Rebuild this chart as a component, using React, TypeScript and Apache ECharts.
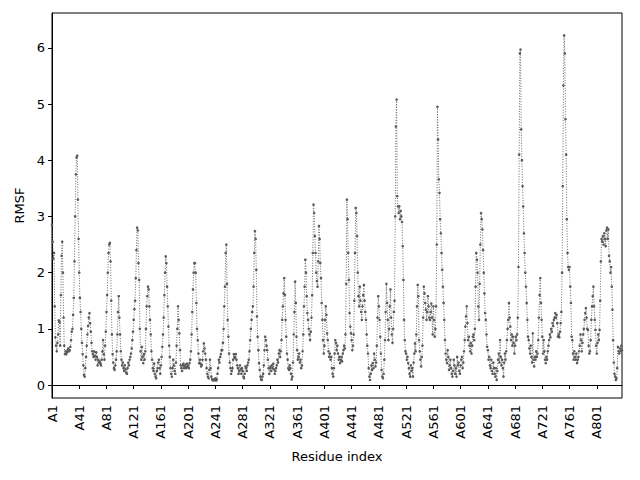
import React, { useEffect, useRef } from "react";
import * as echarts from "echarts";

// RMSF per residue (index 0 = A1)
const rmsf: number[] = [
  2.85, 2.55, 2.25, 2.35, 1.4, 0.85, 0.7, 0.6, 0.75, 0.9,
  1.15, 1.12, 0.7, 1.6, 2.3, 2.55, 2.0, 1.2, 0.7, 0.55,
  0.6, 0.55, 0.58, 0.62, 0.65, 0.6, 0.62, 0.68, 0.8, 0.95,
  1.0, 1.25, 1.55, 2.2, 3.0, 3.75, 4.05, 4.08, 3.3, 2.6,
  2.0, 1.55, 1.3, 1.0, 0.75, 0.55, 0.35, 0.18, 0.15, 0.3,
  0.5, 0.7, 0.9, 1.05, 1.2, 1.28, 1.1, 0.95, 0.75, 0.6,
  0.55, 0.5, 0.6, 0.52, 0.45, 0.58, 0.5, 0.35, 0.45, 0.4,
  0.42, 0.38, 0.35, 0.45, 0.6, 0.8, 0.55, 0.45, 0.7, 0.95,
  1.3, 1.6, 2.0, 2.35, 2.5, 2.53, 2.2, 1.5, 0.9, 0.55,
  0.4, 0.3, 0.27, 0.35, 0.45, 0.6, 0.9, 1.3, 1.58, 1.2,
  0.9, 0.6, 0.45, 0.35, 0.4, 0.3, 0.25, 0.35, 0.28, 0.22,
  0.2, 0.3, 0.4, 0.35, 0.45, 0.5, 0.56, 0.65, 0.8, 0.95,
  1.16, 1.35, 1.5, 1.9, 2.4, 2.8, 2.75, 2.17, 1.87, 1.0,
  0.6, 0.45, 0.68, 0.5, 0.39, 0.55, 0.45, 0.6, 1.0, 1.4,
  1.58, 1.75, 1.7, 1.4, 1.16, 0.9, 0.6, 0.45, 0.3, 0.25,
  0.38, 0.2, 0.15, 0.12, 0.25, 0.3, 0.4, 0.45, 0.3, 0.2,
  0.35, 0.5, 0.68, 0.9, 1.2, 1.6, 2.0, 2.29, 2.17, 1.75,
  1.4, 1.04, 0.7, 0.5, 0.3, 0.2, 0.15, 0.3, 0.45, 0.35,
  0.25, 0.2, 0.4, 0.7, 1.0, 1.4, 1.16, 0.92, 0.62, 0.35,
  0.3, 0.25, 0.35, 0.38, 0.3, 0.33, 0.36, 0.3, 0.38, 0.32,
  0.35, 0.3, 0.39, 0.45, 0.6, 0.9, 1.3, 1.7, 2.0, 2.17,
  2.17, 2.0, 1.46, 1.0, 0.8, 0.56, 0.39, 0.45, 0.38, 0.33,
  0.36, 0.45, 0.6, 0.74, 0.65, 0.56, 0.45, 0.3, 0.2, 0.15,
  0.12, 0.27, 0.45, 0.3, 0.15, 0.1, 0.09, 0.08, 0.1, 0.09,
  0.12, 0.08, 0.1, 0.2, 0.3, 0.45, 0.4, 0.5, 0.55, 0.62,
  0.62, 0.75, 1.0, 1.4, 1.75, 2.35, 2.5, 1.8, 1.16, 0.86,
  0.56, 0.4, 0.3, 0.2, 0.25, 0.3, 0.45, 0.55, 0.5, 0.48,
  0.55, 0.45, 0.35, 0.3, 0.2, 0.25, 0.35, 0.28, 0.2, 0.3,
  0.25, 0.15, 0.12, 0.2, 0.33, 0.3, 0.25, 0.35, 0.4, 0.45,
  0.6, 0.8, 1.0, 1.16, 1.3, 1.4, 1.75, 2.35, 2.74, 2.6,
  2.05, 1.22, 0.86, 0.62, 0.39, 0.27, 0.15, 0.1, 0.09, 0.15,
  0.2, 0.35, 0.62, 0.86, 0.8, 0.7, 0.62, 0.45, 0.3, 0.2,
  0.3, 0.33, 0.25, 0.35, 0.3, 0.38, 0.28, 0.2, 0.25, 0.3,
  0.35, 0.45, 0.4, 0.56, 0.62, 0.5, 0.6, 0.8, 1.16, 1.4,
  1.63, 1.9, 1.6, 1.16, 0.86, 0.56, 0.45, 0.3, 0.27, 0.35,
  0.3, 0.2, 0.1, 0.15, 0.4, 0.9, 1.3, 1.84, 1.46, 0.86,
  0.62, 0.45, 0.5, 0.56, 0.4, 0.45, 0.3, 0.35, 0.6, 0.9,
  1.4, 1.75, 2.23, 2.0, 1.58, 1.28, 1.16, 1.0, 0.9, 0.8,
  0.95, 1.2, 1.6, 2.35, 3.21, 3.06, 2.65, 2.35, 2.0, 1.85,
  1.75, 2.2, 2.83, 2.6, 2.17, 1.9, 1.46, 1.16, 0.8, 0.56,
  0.7, 1.16, 1.4, 1.25, 0.92, 0.8, 0.6, 0.5, 0.56, 0.45,
  0.5, 0.3, 0.2, 0.15, 0.3, 0.56, 0.8, 0.75, 0.62, 0.7,
  0.56, 0.45, 0.5, 0.39, 0.45, 0.5, 0.42, 0.56, 0.62, 0.7,
  0.65, 0.9, 1.8, 3.3, 2.95, 2.35, 1.87, 1.28, 1.04, 0.92,
  0.8, 0.62, 0.7, 0.9, 1.5, 2.35, 3.15, 3.06, 2.65, 2.0,
  1.58, 1.4, 1.75, 1.5, 1.3, 1.16, 1.4, 1.6, 1.78, 1.5,
  1.3, 1.16, 0.9, 0.7, 0.56, 0.3, 0.15, 0.09, 0.2, 0.35,
  0.27, 0.39, 0.3, 0.56, 0.45, 0.33, 0.4, 0.7, 1.2, 1.58,
  1.4, 1.16, 0.86, 0.56, 0.27, 0.15, 0.12, 0.2, 0.45, 0.8,
  1.3, 1.8, 1.46, 1.16, 0.8, 1.0, 1.4, 1.7, 1.2, 0.9,
  0.75, 1.0, 1.3, 1.5, 3.0, 4.6, 5.08, 3.36, 3.18, 3.06,
  3.18, 2.95, 3.1, 3.0, 2.9, 2.47, 1.87, 1.16, 0.8, 0.6,
  0.56, 0.45, 0.5, 0.39, 0.3, 0.2, 0.15, 0.35, 0.25, 0.3,
  0.15, 0.4, 0.56, 0.74, 0.6, 0.9, 1.4, 1.78, 1.58, 0.8,
  0.6, 0.45, 0.33, 0.5, 0.7, 1.2, 1.75, 1.63, 1.46, 1.34,
  1.16, 1.3, 1.58, 1.4, 1.2, 1.16, 1.3, 1.45, 1.2, 0.9,
  1.4, 1.16, 0.86, 1.0, 1.4, 2.5, 4.95, 4.37, 3.66, 3.42,
  2.95, 2.7, 2.35, 2.05, 1.75, 1.46, 1.16, 0.8, 0.56, 0.45,
  0.39, 0.62, 0.5, 0.27, 0.35, 0.45, 0.3, 0.2, 0.15, 0.25,
  0.45, 0.35, 0.2, 0.3, 0.15, 0.5, 0.35, 0.4, 0.25, 0.2,
  0.35, 0.45, 0.5, 0.3, 0.4, 0.6, 0.8, 1.04, 1.22, 1.4,
  1.1, 0.8, 0.86, 0.7, 0.6, 0.75, 0.56, 0.7, 0.86, 0.9,
  0.8, 1.0, 1.75, 2.35, 2.23, 2.0, 1.4, 1.16, 1.8, 2.5,
  3.06, 2.95, 2.77, 2.4, 2.0, 1.63, 1.28, 1.16, 0.9, 0.68,
  0.62, 0.45, 0.5, 0.35, 0.3, 0.45, 0.25, 0.2, 0.4, 0.3,
  0.2, 0.15, 0.3, 0.09, 0.25, 0.45, 0.56, 0.4, 0.8, 0.5,
  0.35, 0.45, 0.3, 0.15, 0.4, 0.56, 0.45, 0.6, 0.8, 1.0,
  1.16, 1.46, 1.2, 1.04, 0.8, 0.9, 0.7, 0.86, 0.75, 0.56,
  0.7, 0.86, 0.8, 0.9, 1.2, 2.1, 4.1, 5.9, 5.97, 4.55,
  4.0, 3.54, 3.18, 2.7, 2.35, 2.0, 1.75, 1.46, 1.16, 0.86,
  0.8, 0.65, 0.56, 0.7, 0.5, 0.4, 0.92, 0.45, 0.33, 0.5,
  0.45, 0.6, 0.5, 0.56, 0.8, 1.2, 1.6, 1.9, 1.46, 1.16,
  0.86, 0.56, 0.8, 0.6, 0.45, 0.39, 0.5, 0.45, 0.6, 0.7,
  0.8, 0.9, 0.85, 1.0, 0.95, 1.1, 1.05, 1.16, 1.2, 1.28,
  1.2, 1.25, 1.1, 0.86, 0.9, 0.85, 0.95, 1.1, 1.3, 2.0,
  3.54, 5.33, 6.22, 5.9, 4.73, 4.1, 2.95, 2.35, 2.1, 2.05,
  2.1, 1.75, 1.46, 0.86, 0.8, 0.56, 0.45, 0.6, 0.5, 0.45,
  0.56, 0.39, 0.45, 0.5, 0.6, 0.7, 0.9, 0.8, 0.6, 0.75,
  0.9, 1.0, 1.16, 1.28, 1.37, 1.2, 1.0, 0.98, 0.7, 0.56,
  0.6, 0.8, 1.16, 1.4, 1.58, 1.75, 1.4, 1.16, 0.98, 0.7,
  0.56, 0.75, 0.9, 0.8, 0.98, 1.5, 2.2, 2.6, 2.55, 2.65,
  2.5, 2.7, 2.6, 2.47, 2.75, 2.8, 2.6, 2.77, 2.3, 2.2,
  2.0, 2.1, 1.75, 1.34, 0.8, 0.4, 0.2, 0.15, 0.09, 0.12,
  0.3, 0.68, 0.6, 0.56, 0.65, 0.6, 0.7, 0.62,
];

const residueLabels: string[] = rmsf.map((_, i) => `A${i + 1}`);
const yTickValues: number[] = [0, 1, 2, 3, 4, 5, 6];

const FONT = "DejaVu Sans";

export default function App() {
  const ref = useRef<HTMLDivElement>(null);

  useEffect(() => {
    document.body.style.margin = "0";
    if (!ref.current) return;
    const chart = echarts.init(ref.current, null, { renderer: "svg" });
    chart.setOption({
      animation: false,
      backgroundColor: "#ffffff",
      grid: {
        left: 52,
        right: 18,
        top: 13,
        bottom: 82,
        show: true,
        borderColor: "#000000",
        borderWidth: 1,
        backgroundColor: "transparent",
      },
      xAxis: {
        type: "category",
        data: residueLabels,
        boundaryGap: false,
        name: "Residue index",
        nameLocation: "middle",
        nameGap: 52,
        nameTextStyle: { color: "#000", fontSize: 13, fontFamily: FONT },
        axisLine: { show: true, lineStyle: { color: "#000", width: 1 } },
        axisTick: {
          show: true,
          interval: 39,
          length: 4,
          lineStyle: { color: "#000" },
        },
        axisLabel: {
          interval: 39,
          rotate: 90,
          margin: 7,
          color: "#000",
          fontSize: 13,
          fontFamily: FONT,
          hideOverlap: false,
        },
        splitLine: { show: false },
      },
      yAxis: {
        type: "value",
        min: -0.231,
        max: 6.62,
        name: "RMSF",
        nameLocation: "middle",
        nameGap: 23,
        nameRotate: 90,
        nameTextStyle: { color: "#000", fontSize: 13, fontFamily: FONT },
        axisLine: { show: true, lineStyle: { color: "#000", width: 1 } },
        axisTick: {
          show: true,
          length: 4,
          customValues: yTickValues,
          lineStyle: { color: "#000" },
        },
        axisLabel: {
          customValues: yTickValues,
          margin: 7,
          color: "#000",
          fontSize: 13,
          fontFamily: FONT,
        },
        splitLine: { show: false },
      },
      series: [
        {
          type: "line",
          data: rmsf,
          symbol: "circle",
          symbolSize: 2.6,
          showSymbol: true,
          showAllSymbol: true,
          sampling: undefined,
          itemStyle: { color: "#5a5a5a" },
          lineStyle: { type: [1, 1.6], width: 1, color: "#6a6a6a" },
          emphasis: { disabled: true },
        },
      ],
    });
    return () => chart.dispose();
  }, []);

  return <div ref={ref} style={{ width: 640, height: 480 }} />;
}
